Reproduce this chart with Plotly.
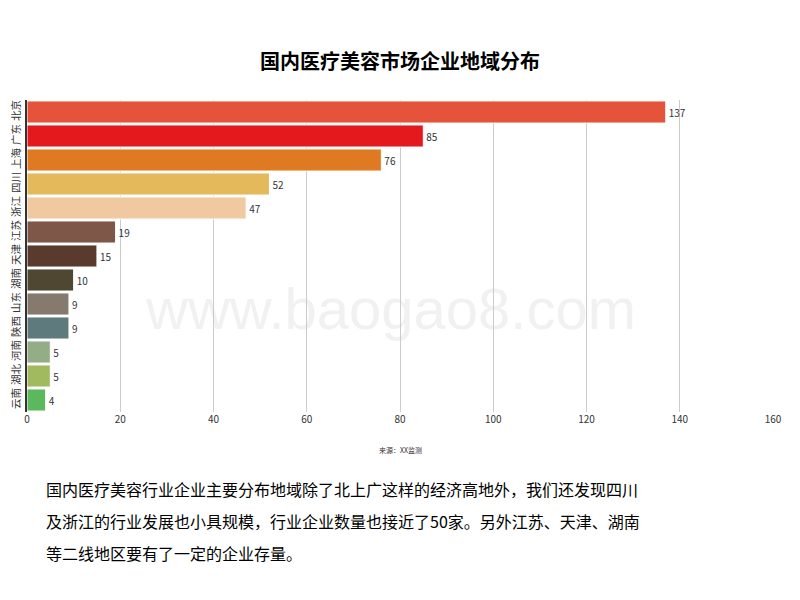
import plotly.graph_objects as go

regions = ["北京","广东","上海","四川","浙江","江苏","天津","湖南","山东","陕西","河南","湖北","云南"]
values = [137,85,76,52,47,19,15,10,9,9,5,5,4]
colors = ["#E5533A","#E3191D","#E07A22","#E4B95C","#F0C9A0","#7E5748","#5A3A2D","#4F4731",
          "#857A6D","#5F7A7C","#93AE86","#A1BA60","#5CB85C"]
xticks = [0,20,40,60,80,100,120,140,160]

OFF = 8  # page body offset
L, R, T, B = 27 - OFF, 27 + OFF, 100 - OFF, 188 + OFF
PW, PH = 800 - L - R, 600 - T - B

def px(x): return (x - OFF - L) / PW
def py(y): return (600 - (y - OFF) - B) / PH

fig = go.Figure(go.Bar(
    y=regions, x=values, orientation="h", marker=dict(color=colors, line=dict(color="white", width=1)),
    text=[str(v) for v in values], textposition="outside", cliponaxis=False,
    textfont=dict(size=10, color="#333"), width=0.92))
fig.update_layout(
    width=800, height=600, paper_bgcolor="white", plot_bgcolor="white",
    margin=dict(l=L, r=R, t=T, b=B), showlegend=False,
    font=dict(family="Noto Sans CJK SC"),
    title=dict(text="<b>国内医疗美容市场企业地域分布</b>", x=(400 - OFF) / 800, y=1 - (62 - OFF) / 600,
               yanchor="middle", font=dict(size=20, color="black")),
    xaxis=dict(range=[0,160], tickvals=xticks, showgrid=True, gridcolor="#cccccc", automargin=False,
               zeroline=False, tickfont=dict(size=10, color="#333"), ticks="", fixedrange=True),
    yaxis=dict(autorange="reversed", tickangle=-90, tickfont=dict(size=10.5, color="#333"), automargin=False,
               showline=True, linecolor="#333", linewidth=2, ticks="", ticklabelstandoff=1),
    bargap=0.08,
)
fig.add_annotation(text="来源：XX监测", x=px(400), y=py(457), xref="paper", yref="paper", showarrow=False,
                   font=dict(size=7, color="#333"))
fig.add_annotation(text="www.baogao8.com", x=px(390), y=py(343), xref="paper", yref="paper",
                   showarrow=False, font=dict(size=58, color="rgba(200,200,200,0.25)", family="Liberation Sans"))
para = ["国内医疗美容行业企业主要分布地域除了北上广这样的经济高地外，我们还发现四川",
        "及浙江的行业发展也小具规模，行业企业数量也接近了50家。另外江苏、天津、湖南",
        "等二线地区要有了一定的企业存量。"]
for i, line in enumerate(para):
    fig.add_annotation(text=line, x=px(44), xref="paper", xanchor="left",
                       y=py(503 + i * 32), yref="paper", showarrow=False,
                       font=dict(size=16, color="black"))
fig.write_html("out.html")
